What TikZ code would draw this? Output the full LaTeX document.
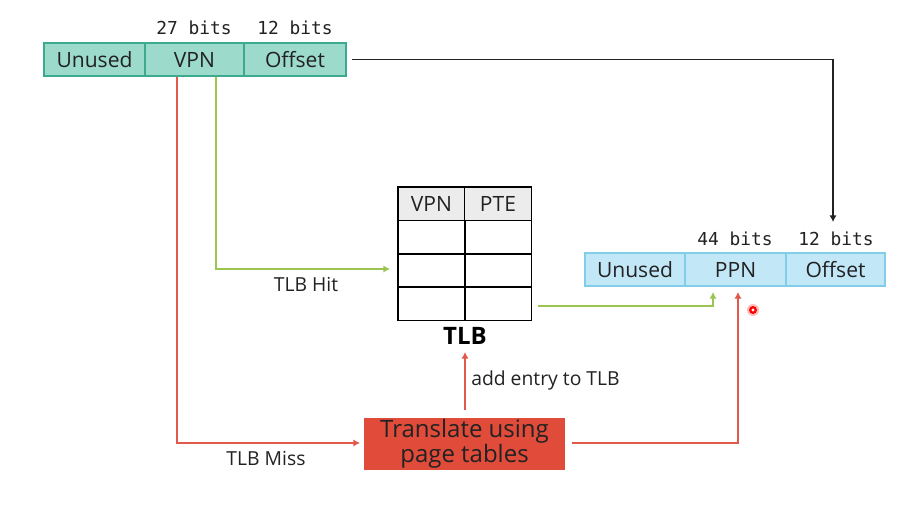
\documentclass[tikz,border=0pt]{standalone}
\usepackage{fontspec}
\setmainfont{Open Sans}
\setmonofont{DejaVu Sans Mono}
\usetikzlibrary{arrows.meta}
\definecolor{tealfill}{HTML}{9CDACB}
\definecolor{tealdraw}{HTML}{3DAA90}
\definecolor{bluefill}{HTML}{C2E7F6}
\definecolor{bluedraw}{HTML}{82CDE8}
\definecolor{hdrfill}{HTML}{ECECEC}
\definecolor{boxred}{HTML}{E04B3A}
\definecolor{linered}{HTML}{E2584A}
\definecolor{linegreen}{HTML}{9BC450}
\definecolor{txt}{HTML}{222222}
\begin{document}
\begin{tikzpicture}[x=0.75pt,y=-0.75pt,
  cellA/.style={draw=tealdraw,fill=tealfill,line width=1pt,minimum height=24.75pt,inner sep=0pt,outer sep=0pt,font=\fontsize{15.8}{18}\selectfont,text=txt},
  cellB/.style={draw=bluedraw,fill=bluefill,line width=1pt,minimum height=24.75pt,inner sep=0pt,outer sep=0pt,font=\fontsize{15.8}{18}\selectfont,text=txt},
  tcell/.style={draw=black,line width=1pt,minimum width=50.25pt,minimum height=25pt,inner sep=0pt,outer sep=0pt,font=\fontsize{15.8}{18}\selectfont,text=txt},
  bits/.style={font=\ttfamily\fontsize{13.4}{15}\selectfont,text=txt,inner sep=0pt},
  lbl/.style={font=\fontsize{14.5}{17}\selectfont,text=txt,inner sep=0pt},
  tip/.style={-{Latex[length=5pt,width=5.5pt]}},
  gline/.style={draw=linegreen,line width=1pt,tip},
  rline/.style={draw=linered,line width=1pt,tip},
  kline/.style={draw=txt,line width=1pt,tip}
]
\useasboundingbox (0,0) rectangle (916,514);
\fill[white] (0,0) rectangle (916,514);

% top virtual address
\node[cellA,minimum width=75.75pt] (un1) at (94.5,59.5) {Unused};
\node[cellA,minimum width=74.25pt] (vpn1) at (194.5,59.5) {VPN};
\node[cellA,minimum width=76.5pt] (off1) at (295,59.5) {Offset};
\node[bits] (b27) at (194,28) {27 bits};
\node[bits] (b12a) at (295,28) {12 bits};

% physical address
\node[cellB,minimum width=75pt] (un2) at (635,269.5) {Unused};
\node[cellB,minimum width=75.75pt] (ppn) at (735.5,269.5) {PPN};
\node[cellB,minimum width=74.25pt] (off2) at (835.5,269.5) {Offset};
\node[bits] (b44) at (735,239) {44 bits};
\node[bits] (b12b) at (836,239) {12 bits};

% TLB table
\node[tcell,fill=hdrfill] (h1) at (431.5,203.5) {VPN};
\node[tcell,fill=hdrfill] (h2) at (498,203.5) {PTE};
\node[tcell] (r11) at (431.5,237) {};
\node[tcell] (r12) at (498,237) {};
\node[tcell] (r21) at (431.5,270.5) {};
\node[tcell] (r22) at (498,270.5) {};
\node[tcell] (r31) at (431.5,303.5) {};
\node[tcell] (r32) at (498,303.5) {};
\node[font=\bfseries\fontsize{18}{20}\selectfont,text=black,inner sep=0pt] (tlb) at (465,336) {TLB};

% translate box
\node[fill=boxred,minimum width=150.75pt,minimum height=39pt,inner sep=0pt,align=center,
  font=\fontsize{18}{17.5}\selectfont,text=txt] (tr) at (464.5,444) {Translate using\\page tables};

% connectors
\coordinate (kend) at (833,222);
\draw[kline] ([xshift=4.5pt]off1.east) -| (kend);

\coordinate (g1s) at (216,76.5);
\coordinate (g1e) at (390,269);
\draw[gline] (g1s) |- (g1e);
\node[lbl] (hit) at (306,284) {TLB Hit};

\coordinate (g2s) at (538,306);
\coordinate (g2e) at (713,292);
\draw[gline] (g2s) -| (g2e);

\coordinate (r1s) at (177,76.5);
\coordinate (r1e) at (360,443);
\draw[rline] (r1s) |- (r1e);
\node[lbl] (miss) at (266,458) {TLB Miss};

\coordinate (r2s) at (465,410);
\coordinate (r2e) at (465,352);
\draw[rline] (r2s) -- (r2e);
\node[lbl,anchor=west] (add) at (471,380) {add entry to TLB};

\coordinate (r3s) at (572,443);
\coordinate (r3e) at (738,292);
\draw[rline] (r3s) -| (r3e);

% pointer dot
\fill[red!25] (753,310) circle (6);
\fill[red] (753,310) circle (4);
\fill[white] (753,310) circle (1.6);
\end{tikzpicture}
\end{document}
